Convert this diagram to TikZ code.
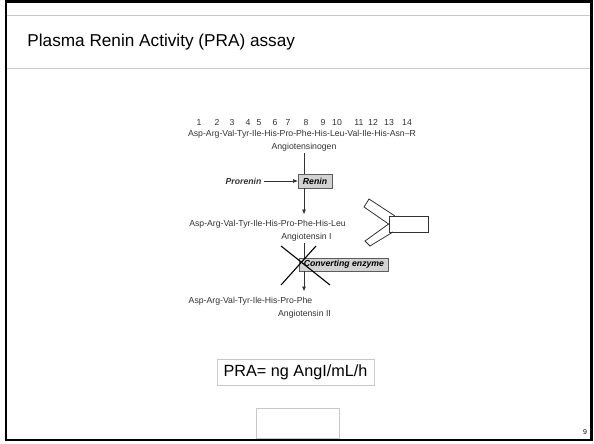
\documentclass[tikz,border=0pt]{standalone}
\usepackage{fontspec}
\setmainfont{Liberation Sans}
\usetikzlibrary{arrows.meta,positioning}

\definecolor{rulegray}{HTML}{C8C8C8}
\definecolor{boxgray}{HTML}{D2D2D2}
\definecolor{inkgray}{HTML}{333333}

\tikzset{
  seqtext/.style={font=\fontsize{8.7}{9}\selectfont,text=inkgray,inner sep=0pt},
  enzbox/.style={draw=inkgray!80,fill=boxgray,line width=0.8pt,inner sep=0pt,
    font=\fontsize{8.7}{9}\selectfont\bfseries\itshape,text=black},
  slidebox/.style={draw=rulegray,line width=0.8pt,inner sep=0pt},
  tip/.style={-{Triangle[length=4.5pt,width=3.5pt]}},
}

\begin{document}
\begin{tikzpicture}[x=1pt,y=-1pt,line width=0.8pt,node distance=13pt,on grid]
			\useasboundingbox (0,0) rectangle (594,444);
			% slide frame
			\draw[line width=2.2pt] (6,1.5) rectangle (591.5,440);
			\draw[rulegray] (7,15) -- (590,15);
			\draw[rulegray] (7,68) -- (590,68);
			\node[anchor=west,inner sep=0pt,font=\fontsize{17.2}{18}\selectfont] (title) at (27,42) {Plasma Renin Activity (PRA) assay};
			% angiotensinogen
			\node[seqtext] (agtseq) at (302,134) {Asp-Arg-Val-Tyr-Ile-His-Pro-Phe-His-Leu-Val-Ile-His-Asn--R};
			\foreach \num/\xpos in {1/199,2/217,3/232,4/248,5/259,6/275,7/288,8/306,9/323,10/337,11/359,12/373,13/389,14/407}
			  \node[seqtext,anchor=base] (n\num) at (\xpos,125) {\num};
			\node[seqtext] (agt)[below=of agtseq,xshift=2pt] {Angiotensinogen};
			% renin step
			\node[enzbox,minimum width=34pt,minimum height=14pt] (renin) at (315,181) {Renin};
			\node[seqtext,font=\fontsize{8.7}{9}\selectfont\bfseries\itshape] (prorenin) at (243.5,181) {Prorenin};
			\node[seqtext] (ang1seq) at (267.5,224) {Asp-Arg-Val-Tyr-Ile-His-Pro-Phe-His-Leu};
			\node[seqtext] (ang1)[below=of ang1seq,xshift=39pt] {Angiotensin I};
			% converting enzyme step
			\node[enzbox,minimum width=89pt,minimum height=13pt,anchor=west] (ace) at (299,264.5) {Converting enzyme};
			\node[seqtext] (ang2seq) at (250.5,301) {Asp-Arg-Val-Tyr-Ile-His-Pro-Phe};
			\node[seqtext] (ang2)[below=of ang2seq,xshift=54pt] {Angiotensin II};
			\coordinate (ax1) at (304,153);
			\coordinate (ax2) at (304,214);
			\coordinate (ax3) at (304,243);
			\coordinate (ax4) at (304,291);
			\draw[inkgray] (ax1) -- (ax1 |- renin.north);
			\draw[inkgray,tip] (ax1 |- renin.south) -- (ax2);
			\draw[inkgray,tip] (prorenin.east) ++(2,0) -- (renin.west);
			\draw[inkgray] (ax3) -- (ax3 |- ace.north);
			\draw[inkgray,tip] (ax3 |- ace.south) -- (ax4);
			% blocked
			\coordinate (xa) at (281,246);
			\coordinate (xb) at (330,285);
			\coordinate (xc) at (316,246);
			\coordinate (xd) at (281,285);
			\draw[line width=1.1pt] (xa) -- (xb);
			\draw[line width=1.1pt] (xc) -- (xd);
			% antibody
			\node[draw=inkgray,minimum width=39pt,minimum height=16pt,inner sep=0pt] (ab) at (408.5,224) {};
			\draw[inkgray] (395,216) -- (369,199) -- (364,207) -- (ab.west);
			\draw[inkgray] (ab.west) -- (365,241) -- (370,246) -- (393,232);
			% formula
			\node[slidebox,minimum width=157pt,minimum height=26pt,font=\fontsize{16.2}{17}\selectfont] (pra) at (295.5,372) {PRA= ng AngI/mL/h};
			\node[slidebox,minimum width=83pt,minimum height=30pt] (blank) at (297.5,423) {};
			\node[inner sep=0pt,font=\fontsize{7}{8}\selectfont] (page) at (585,432) {9};
\end{tikzpicture}
\end{document}
